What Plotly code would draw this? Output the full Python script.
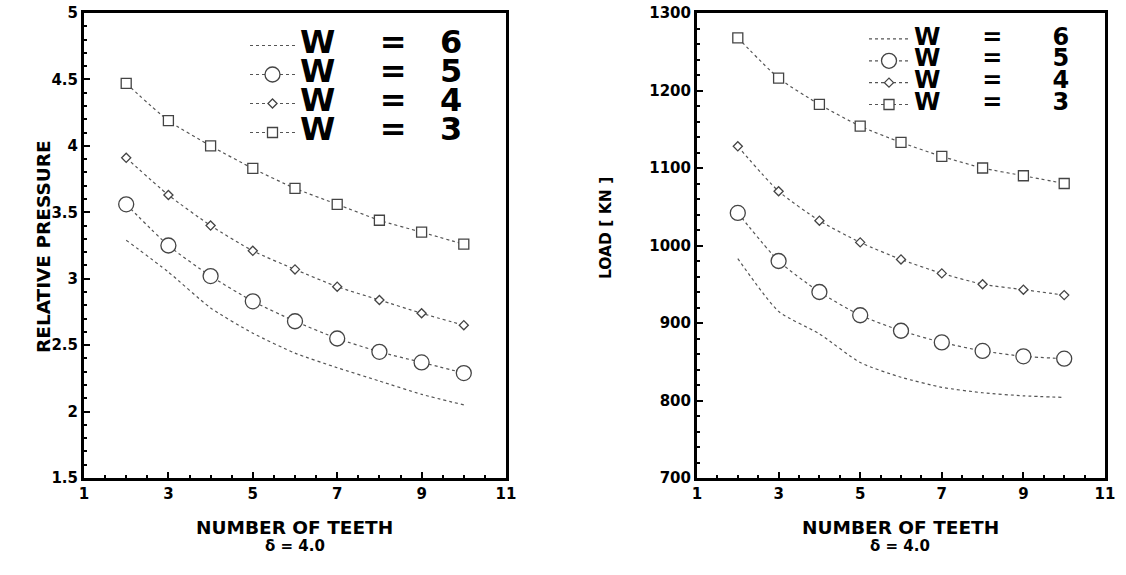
import plotly.graph_objects as go

# ---------------- data ----------------
teeth = [2, 3, 4, 5, 6, 7, 8, 9, 10]
w_labels = ["6", "5", "4", "3"]

press_w6 = [3.29, 3.05, 2.78, 2.59, 2.44, 2.33, 2.23, 2.13, 2.05]
press_w5 = [3.56, 3.25, 3.02, 2.83, 2.68, 2.55, 2.45, 2.37, 2.29]
press_w4 = [3.91, 3.63, 3.40, 3.21, 3.07, 2.94, 2.84, 2.74, 2.65]
press_w3 = [4.47, 4.19, 4.00, 3.83, 3.68, 3.56, 3.44, 3.35, 3.26]

load_w6 = [983, 915, 886, 849, 830, 817, 810, 806, 804]
load_w5 = [1042, 980, 940, 910, 890, 875, 864, 857, 854]
load_w4 = [1128, 1070, 1032, 1004, 982, 964, 950, 943, 936]
load_w3 = [1268, 1216, 1182, 1154, 1133, 1115, 1100, 1090, 1080]

x_ticks = [1, 3, 5, 7, 9, 11]
press_ticks = [1.5, 2, 2.5, 3, 3.5, 4, 4.5, 5]
load_ticks = [700, 800, 900, 1000, 1100, 1200, 1300]

# ---------------- layout helpers ----------------
FW, FH = 1126, 575


def fx(px):
    return px / FW


def fy(py):
    return 1 - py / FH


FONT = "DejaVu Sans"
LINE_C = "#555555"
MARK_C = "#444444"

styles = [
    dict(mode="lines", marker=None),
    dict(mode="lines+markers", marker=dict(symbol="circle", size=15)),
    dict(mode="lines+markers", marker=dict(symbol="diamond", size=7)),
    dict(mode="lines+markers", marker=dict(symbol="square", size=10)),
]

fig = go.Figure()


def legend_name(w, px, gap1, gap2):
    return ('<span style="font-size:%dpx">W%s=%s%s</span>'
            % (px, "\u00a0" * gap1, "\u00a0" * gap2, w))


for series, xa, ya, leg, px, g1, g2 in [
    ([press_w6, press_w5, press_w4, press_w3], "x", "y", "legend", 32, 4, 3),
    ([load_w6, load_w5, load_w4, load_w3], "x2", "y2", "legend2", 24, 5, 6),
]:
    for vals, wl, st in zip(series, w_labels, styles):
        tr = dict(
            x=teeth, y=vals, xaxis=xa, yaxis=ya, legend=leg,
            name=legend_name(wl, px, g1, g2), mode=st["mode"],
            line=dict(color=LINE_C, width=1.2, dash="dot",
                      shape="spline", smoothing=0.6),
        )
        if st["marker"] is not None:
            tr["marker"] = dict(st["marker"], color="white",
                                line=dict(color=MARK_C, width=1.3))
        fig.add_trace(go.Scatter(**tr))

axis_common = dict(
    showline=True, linecolor="black", linewidth=3, mirror=True,
    ticks="inside", ticklen=6, tickwidth=1.5, tickcolor="black",
    showgrid=False, zeroline=False, automargin=False,
    ticklabeloverflow="allow",
    tickfont=dict(family=FONT, size=15, color="black", weight="bold"),
)

left_dom = [fx(84), fx(506)]
right_dom = [fx(697), fx(1105)]
y_dom = [fy(478), fy(13)]

fig.update_layout(
    width=FW, height=FH,
    margin=dict(l=0, r=0, t=0, b=0, autoexpand=False),
    paper_bgcolor="white", plot_bgcolor="white",
    xaxis=dict(axis_common, domain=left_dom, range=[1, 11], tickvals=x_ticks,
               anchor="y",
               minor=dict(ticks="inside", dtick=0.5, ticklen=3, tickcolor="black")),
    yaxis=dict(axis_common, domain=y_dom, range=[1.5, 5], tickvals=press_ticks,
               anchor="x",
               minor=dict(ticks="inside", dtick=0.1, ticklen=3, tickcolor="black")),
    xaxis2=dict(axis_common, domain=right_dom, range=[1, 11], tickvals=x_ticks,
                anchor="y2",
                minor=dict(ticks="inside", dtick=0.5, ticklen=3, tickcolor="black")),
    yaxis2=dict(axis_common, domain=y_dom, range=[700, 1300], tickvals=load_ticks,
                anchor="x2",
                minor=dict(ticks="inside", dtick=20, ticklen=3, tickcolor="black")),
    legend=dict(x=fx(245), xanchor="left", y=fy(26), yanchor="top",
                bgcolor="rgba(0,0,0,0)", borderwidth=0, itemwidth=45,
                font=dict(family=FONT, size=20, color="black", weight="bold")),
    legend2=dict(x=fx(864), xanchor="left", y=fy(23), yanchor="top",
                 bgcolor="rgba(0,0,0,0)", borderwidth=0, itemwidth=40,
                 font=dict(family=FONT, size=14.5, color="black", weight="bold")),
    showlegend=True,
)

title_font = dict(family=FONT, size=18.5, color="black", weight="bold")
ann = [
    dict(text="RELATIVE PRESSURE", x=fx(44), y=fy(247), textangle=-90,
         font=title_font),
    dict(text="LOAD [ KN ]", x=fx(606), y=fy(228), textangle=-90,
         font=dict(title_font, size=15.5)),
    dict(text="NUMBER OF TEETH", x=fx(294), y=fy(527), font=title_font),
    dict(text="\u03b4 = 4.0", x=fx(295), y=fy(546),
         font=dict(title_font, size=15)),
    dict(text="NUMBER OF TEETH", x=fx(900), y=fy(527), font=title_font),
    dict(text="\u03b4 = 4.0", x=fx(900), y=fy(546),
         font=dict(title_font, size=15)),
]
for a in ann:
    a.update(xref="paper", yref="paper", showarrow=False,
             xanchor="center", yanchor="middle")
fig.update_layout(annotations=ann)

fig.write_html("out.html",
               config={"displayModeBar": False},
               post_script="document.body.style.margin='0';"
                           "document.body.style.overflow='hidden';")
